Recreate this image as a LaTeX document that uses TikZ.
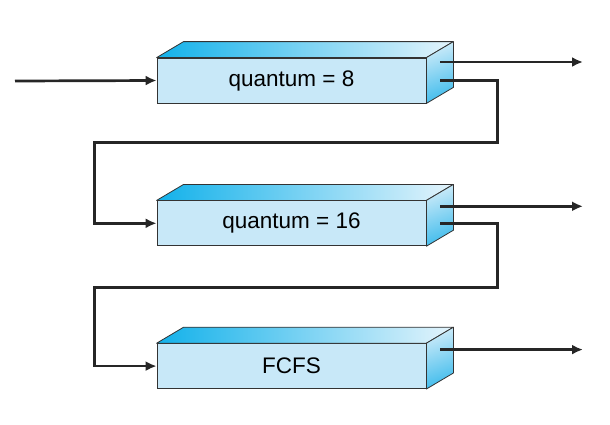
\documentclass[tikz,border=0pt]{standalone}
\usepackage{fontspec}
\setmainfont{Liberation Sans}
\usetikzlibrary{arrows.meta,positioning}
\definecolor{qfront}{HTML}{C8E8F8}
\definecolor{qtopl}{HTML}{12B1EA}
\definecolor{qtopr}{HTML}{E4F4FC}
\definecolor{qsidet}{HTML}{CDEBF9}
\definecolor{qsideb}{HTML}{40BCEC}
\definecolor{qedge}{HTML}{333333}

\begin{document}
\begin{tikzpicture}[
  x=1pt, y=1pt,
  node distance=97pt,
  queue/.style={draw=qedge, fill=qfront, line width=0.8pt,
                minimum width=269pt, minimum height=45pt, inner sep=0pt,
                font=\fontsize{22.5}{26}\selectfont},
  face/.style={draw=qedge, line width=0.8pt, line join=round},
  arr/.style={-{Latex[length=11pt,width=10pt]}, line width=2.7pt, draw=black!85}
]
\useasboundingbox (0,0) rectangle (610,-424);

\node[queue] (q8) at (291.5,-80.5) {quantum = 8};
\node[queue, below=of q8] (q16) {quantum = 16};
\node[queue, below=of q16] (fcfs) {FCFS};

% top and side of each queue
\foreach \q in {q8,q16,fcfs}{
  \shadedraw[face, left color=qtopl, right color=qtopr]
    (\q.north west) -- ++(27,16) -- ([shift={(27,16)}]\q.north east)
    -- (\q.north east) -- cycle;
  \shadedraw[face, top color=qsidet, bottom color=qsideb, shading angle=20]
    (\q.north east) -- ++(27,16) -- ([shift={(27,16)}]\q.south east)
    -- (\q.south east) -- cycle;
}

\coordinate (in)   at (15,-81);
\coordinate (exit) at (583,0);
\coordinate (q8hi)   at ([shift={(14,18.5)}]q8.east);
\coordinate (q8lo)   at ([shift={(14,0)}]q8.east);
\coordinate (q16hi)  at ([shift={(14,17)}]q16.east);
\coordinate (q16lo)  at ([shift={(14,0)}]q16.east);
\coordinate (fcfshi) at ([shift={(14,16.5)}]fcfs.east);

\draw[arr] (in) -- (q8.west);
\draw[arr] (q8hi) -- (q8hi -| exit);
\draw[arr] (q16hi) -- (q16hi -| exit);
\draw[arr] (fcfshi) -- (fcfshi -| exit);

\draw[arr, line join=miter] (q8lo) -- ++(57,0)
  |- ([shift={(-62,-39)}]q8.south west) |- (q16.west);
\draw[arr, line join=miter] (q16lo) -- ++(57,0)
  |- ([shift={(-62,-41)}]q16.south west) |- (fcfs.west);
\end{tikzpicture}
\end{document}
